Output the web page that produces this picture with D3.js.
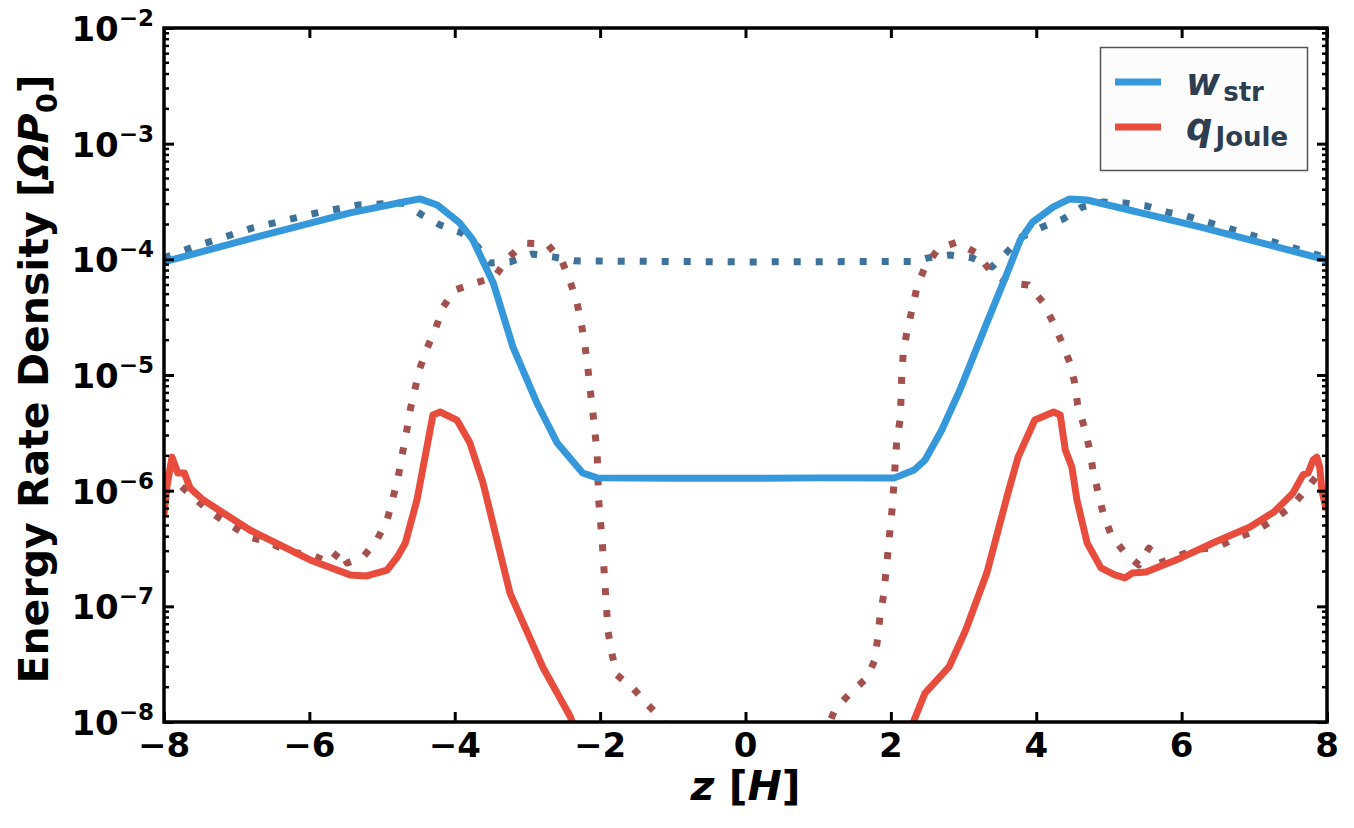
<!DOCTYPE html>
<html>
<head>
<meta charset="utf-8">
<script src="https://cdn.jsdelivr.net/npm/d3@7/dist/d3.min.js"></script>
<style>
  body { margin: 0; background: #fff; }
  text { font-family: "DejaVu Sans", sans-serif; font-weight: bold; }
</style>
</head>
<body>
<svg width="1354" height="828" id="mainsvg" style="display:block"></svg>
<script>
  // values (z in H, rate in Omega P0)
  const wStrZ = [-8.00, -6.68, -5.44, -4.71, -4.48, -4.24, -3.93, -3.75, -3.47, -3.20, -2.87, -2.59, -2.24, -2.04,
    -1.0, 0.0, 1.0, 2.05, 2.32, 2.47, 2.70, 2.95, 3.32, 3.60, 3.78, 3.95, 4.23, 4.46, 4.70, 6.25, 8.00];
  const wStr = [9.5e-5, 1.59e-4, 2.52e-4, 3.13e-4, 3.33e-4, 2.95e-4, 2.06e-4, 1.47e-4, 6.24e-5, 1.75e-5, 5.73e-6, 2.58e-6, 1.42e-6, 1.29e-6,
    1.28e-6, 1.28e-6, 1.29e-6, 1.29e-6, 1.51e-6, 1.84e-6, 3.35e-6, 7.41e-6, 2.82e-5, 7.62e-5, 1.47e-4, 2.10e-4, 2.83e-4, 3.33e-4, 3.26e-4, 1.91e-4, 9.86e-5];

  const wStrDotZ = [-8.00, -7.64, -6.78, -5.90, -5.33, -4.71, -4.45, -4.20, -3.90, -3.68, -3.52, -3.24, -2.94, -2.65, -2.35,
    0.0, 2.35, 2.51, 2.81, 3.12, 3.39, 3.60, 3.80, 4.09, 4.37, 4.63, 4.92, 5.22, 5.52, 5.80, 6.07, 8.00];
  const wStrDot = [1.03e-4, 1.25e-4, 1.87e-4, 2.52e-4, 2.95e-4, 3.07e-4, 2.42e-4, 1.98e-4, 1.69e-4, 1.28e-4, 9.3e-5, 9.5e-5, 1.11e-4, 1.05e-4, 9.7e-5,
    9.5e-5, 9.6e-5, 1.03e-4, 1.09e-4, 1.03e-4, 8.6e-5, 1.16e-4, 1.56e-4, 1.91e-4, 2.23e-4, 2.83e-4, 3.13e-4, 3.07e-4, 2.89e-4, 2.56e-4, 2.37e-4, 1.03e-4];

  const qJouleZ = [-8.00, -7.96, -7.89, -7.81, -7.72, -7.64, -7.46, -6.82, -5.99, -5.44, -5.21, -4.93, -4.79, -4.68, -4.52, -4.30, -4.20,
    -3.97, -3.79, -3.61, -3.24, -2.79, -2.41, -2.25,
    2.20, 2.32, 2.47, 2.80, 3.03, 3.32, 3.61, 3.75, 3.98, 4.24, 4.33, 4.40, 4.49, 4.56, 4.70, 4.89, 5.08, 5.22, 5.32, 5.51,
    5.99, 6.46, 6.94, 7.27, 7.53, 7.67, 7.74, 7.81, 7.86, 7.90, 7.93, 7.99];
  const qJoule = [6.17e-7, 1.08e-6, 1.95e-6, 1.42e-6, 1.42e-6, 1.05e-6, 8.3e-7, 4.57e-7, 2.52e-7, 1.87e-7, 1.83e-7, 2.06e-7, 2.67e-7, 3.53e-7, 8.3e-7, 4.51e-6, 4.79e-6,
    4.08e-6, 2.58e-6, 1.16e-6, 1.30e-7, 2.99e-8, 1.11e-8, 6e-9,
    6e-9, 1.04e-8, 1.78e-8, 2.99e-8, 6.25e-8, 1.94e-7, 9.5e-7, 1.95e-6, 4.08e-6, 4.79e-6, 4.51e-6, 2.25e-6, 1.60e-6, 8.3e-7, 3.53e-7, 2.15e-7, 1.87e-7, 1.76e-7, 1.94e-7, 1.98e-7,
    2.62e-7, 3.60e-7, 4.85e-7, 6.55e-7, 9.5e-7, 1.37e-6, 1.42e-6, 1.84e-6, 1.95e-6, 1.60e-6, 1.01e-6, 6.8e-7];

  const qJouleDotZ = [-8.00, -7.85, -7.60, -7.34, -7.09, -6.82, -6.54, -6.27, -5.96, -5.72, -5.58, -5.48, -5.26, -5.07, -4.93, -4.85, -4.78,
    -4.73, -4.67, -4.62, -4.55, -4.49, -4.38, -4.26, -4.16, -4.00, -3.72, -3.45, -3.27, -3.03, -2.73, -2.52, -2.41, -2.32, -2.26, -2.21,
    -2.17, -2.14, -2.10, -2.07, -2.04, -2.02, -1.97, -1.93, -1.91, -1.89, -1.84, -1.77, -1.55, -1.34, -1.14, -0.95,
    1.05, 1.23, 1.44, 1.67, 1.78, 1.82, 1.85, 1.90, 1.96, 1.99, 2.02, 2.06, 2.08, 2.13, 2.15, 2.17, 2.22, 2.29, 2.36, 2.47, 2.65, 2.91,
    3.18, 3.36, 3.61, 3.89, 4.09, 4.23, 4.35, 4.46, 4.53, 4.57, 4.66, 4.73, 4.78, 4.85, 4.92, 5.03, 5.21, 5.41, 5.55, 5.70, 5.91, 6.17,
    6.49, 6.75, 7.04, 7.30, 7.53, 7.73, 7.90];
  const qJouleDot = [1.4e-6, 1.23e-6, 8.8e-7, 6.4e-7, 5.05e-7, 3.98e-7, 3.53e-7, 2.95e-7, 2.78e-7, 2.37e-7, 3.07e-7, 2.37e-7, 2.67e-7, 3.75e-7, 5.58e-7, 8.65e-7, 1.29e-6,
    1.95e-6, 3.03e-6, 4.79e-6, 7.41e-6, 1.10e-5, 1.71e-5, 2.55e-5, 3.87e-5, 5.43e-5, 6.24e-5, 7.03e-5, 1.03e-4, 1.38e-4, 1.36e-4, 9.5e-5, 6.37e-5, 4.28e-5, 2.82e-5, 1.82e-5,
    1.17e-5, 7.72e-6, 4.79e-6, 3.16e-6, 2.03e-6, 8.3e-7, 3.53e-7, 1.44e-7, 9.3e-8, 6.0e-8, 3.95e-8, 2.55e-8, 1.97e-8, 1.40e-8, 1.04e-8, 6e-9,
    7e-9, 1.27e-8, 1.78e-8, 2.40e-8, 3.44e-8, 5.43e-8, 8.1e-8, 1.25e-7, 2.95e-7, 4.75e-7, 7.2e-7, 1.73e-6, 2.64e-6, 4.25e-6, 1.0e-5, 1.55e-5, 2.35e-5, 3.65e-5, 5.77e-5, 8.6e-5, 1.23e-4, 1.41e-4,
    1.13e-4, 8.1e-5, 6.24e-5, 6.0e-5, 4.28e-5, 2.87e-5, 1.93e-5, 1.29e-5, 8.5e-6, 5.5e-6, 3.56e-6, 2.34e-6, 1.51e-6, 9.7e-7, 6.4e-7, 4.14e-7, 2.95e-7, 2.28e-7, 3.19e-7, 2.37e-7, 2.67e-7, 3.07e-7,
    3.26e-7, 3.90e-7, 4.57e-7, 5.81e-7, 7.5e-7, 1.05e-6, 1.45e-6];

  const xTicks = [-8, -6, -4, -2, 0, 2, 4, 6, 8];
  const yExps = [-8, -7, -6, -5, -4, -3, -2];

  const svg = d3.select('svg');
  const margin = { top: 28, right: 27, bottom: 106, left: 164 };
  const width = +svg.attr('width'), height = +svg.attr('height');
  const innerWidth = width - margin.left - margin.right;
  const innerHeight = height - margin.top - margin.bottom;

  // scales in page coordinates
  const x = d3.scaleLinear().domain([-8, 8]).range([margin.left, margin.left + innerWidth]);
  const y = d3.scaleLog().domain([1e-8, 1e-2]).range([margin.top + innerHeight, margin.top]);

  svg.append('clipPath').attr('id', 'plotClip')
    .append('rect').attr('x', margin.left).attr('y', margin.top)
    .attr('width', innerWidth).attr('height', innerHeight);

  const line = d3.line().x(d => x(d[0])).y(d => y(d[1]));
  const zip = (a, b) => a.map((v, i) => [v, b[i]]);

  const series = [
    { data: zip(wStrDotZ, wStrDot), color: '#3f729b', dash: '7,15' },
    { data: zip(qJouleDotZ, qJouleDot), color: '#a4514d', dash: '7,15' },
    { data: zip(wStrZ, wStr), color: '#3498db', dash: null },
    { data: zip(qJouleZ, qJoule), color: '#e74c3c', dash: null }
  ];

  const lines = svg.append('g').attr('clip-path', 'url(#plotClip)');
  series.forEach(s => {
    lines.append('path')
      .datum(s.data)
      .attr('d', line)
      .attr('fill', 'none')
      .attr('stroke', s.color)
      .attr('stroke-width', 7)
      .attr('stroke-dasharray', s.dash)
      .attr('stroke-linejoin', 'round')
      .attr('stroke-linecap', 'butt');
  });

  // ticks: inward, on all four sides (no labels from the axis generators)
  const bottom = margin.top + innerHeight, right = margin.left + innerWidth;
  const axes = [
    svg.append('g').attr('transform', `translate(0,${bottom})`).call(d3.axisBottom(x).tickValues(xTicks).tickSize(-10)),
    svg.append('g').attr('transform', `translate(0,${margin.top})`).call(d3.axisTop(x).tickValues(xTicks).tickSize(-10)),
    svg.append('g').attr('transform', `translate(${margin.left},0)`).call(d3.axisLeft(y).tickValues(yExps.map(e => Math.pow(10, e))).tickSize(-10)),
    svg.append('g').attr('transform', `translate(${right},0)`).call(d3.axisRight(y).tickValues(yExps.map(e => Math.pow(10, e))).tickSize(-10))
  ];
  axes.forEach(a => {
    a.select('.domain').remove();
    a.selectAll('.tick text').remove();
    a.selectAll('.tick line').attr('stroke', '#000').attr('stroke-width', 3);
  });

  // minor y ticks
  const minors = [];
  yExps.slice(0, -1).forEach(e => { for (let k = 2; k < 10; k++) minors.push(k * Math.pow(10, e)); });
  svg.append('g').selectAll('line').data(minors).join('line')
    .attr('x1', margin.left).attr('x2', margin.left + 5).attr('y1', d => y(d)).attr('y2', d => y(d))
    .attr('stroke', '#000').attr('stroke-width', 2.5);
  svg.append('g').selectAll('line').data(minors).join('line')
    .attr('x1', right).attr('x2', right - 5).attr('y1', d => y(d)).attr('y2', d => y(d))
    .attr('stroke', '#000').attr('stroke-width', 2.5);

  // x tick labels
  svg.append('g').selectAll('text').data(xTicks).join('text')
    .attr('x', d => x(d)).attr('y', bottom + 35)
    .attr('text-anchor', 'middle').attr('fill', '#000').style('font-size', '34px')
    .text(d => d < 0 ? '\u2212' + Math.abs(d) : String(d));

  // y tick labels 10^e
  const yLab = svg.append('g').selectAll('text').data(yExps).join('text')
    .attr('x', margin.left - 10).attr('y', d => y(Math.pow(10, d)) + 13)
    .attr('text-anchor', 'end').attr('fill', '#000').style('font-size', '34px');
  yLab.append('tspan').text('10');
  yLab.append('tspan').attr('dy', -15).style('font-size', '23px').text(d => '\u2212' + Math.abs(d));

  // frame
  svg.append('rect').attr('x', margin.left).attr('y', margin.top)
    .attr('width', innerWidth).attr('height', innerHeight)
    .attr('fill', 'none').attr('stroke', '#000').attr('stroke-width', 3.5);

  // axis labels
  const xl = svg.append('text')
    .attr('x', margin.left + innerWidth / 2).attr('y', 800)
    .attr('text-anchor', 'middle').attr('fill', '#000').style('font-size', '41px');
  xl.append('tspan').style('font-style', 'italic').text('z');
  xl.append('tspan').text(' [');
  xl.append('tspan').style('font-style', 'italic').text('H');
  xl.append('tspan').text(']');

  const yl = svg.append('text')
    .attr('transform', `translate(48,${margin.top + innerHeight / 2 + 4}) rotate(-90)`)
    .attr('text-anchor', 'middle').attr('fill', '#000').style('font-size', '41px');
  yl.append('tspan').text('Energy Rate Density [');
  yl.append('tspan').style('font-style', 'italic').text('\u03A9P');
  yl.append('tspan').attr('dy', 9).style('font-size', '29px').text('0');
  yl.append('tspan').attr('dy', -9).text(']');

  // legend
  const legend = svg.append('g');
  legend.append('rect').attr('x', 1100.5).attr('y', 47.5).attr('width', 207).attr('height', 123)
    .attr('fill', '#fcfcfc').attr('stroke', '#555').attr('stroke-width', 1.5);
  const legItems = [
    { color: '#3498db', sym: 'w', sub: 'str', y: 82 },
    { color: '#e74c3c', sym: 'q', sub: 'Joule', y: 127 }
  ];
  legItems.forEach(it => {
    legend.append('line').attr('x1', 1115).attr('x2', 1161).attr('y1', it.y).attr('y2', it.y)
      .attr('stroke', it.color).attr('stroke-width', 7);
    const t = legend.append('text').attr('x', 1186).attr('y', it.y + 13)
      .attr('fill', '#2c3e50').style('font-size', '37px');
    t.append('tspan').style('font-style', 'italic').text(it.sym);
    t.append('tspan').attr('dx', 3).attr('dy', 6).style('font-size', '26px').text(it.sub);
  });
</script>
</body>
</html>
